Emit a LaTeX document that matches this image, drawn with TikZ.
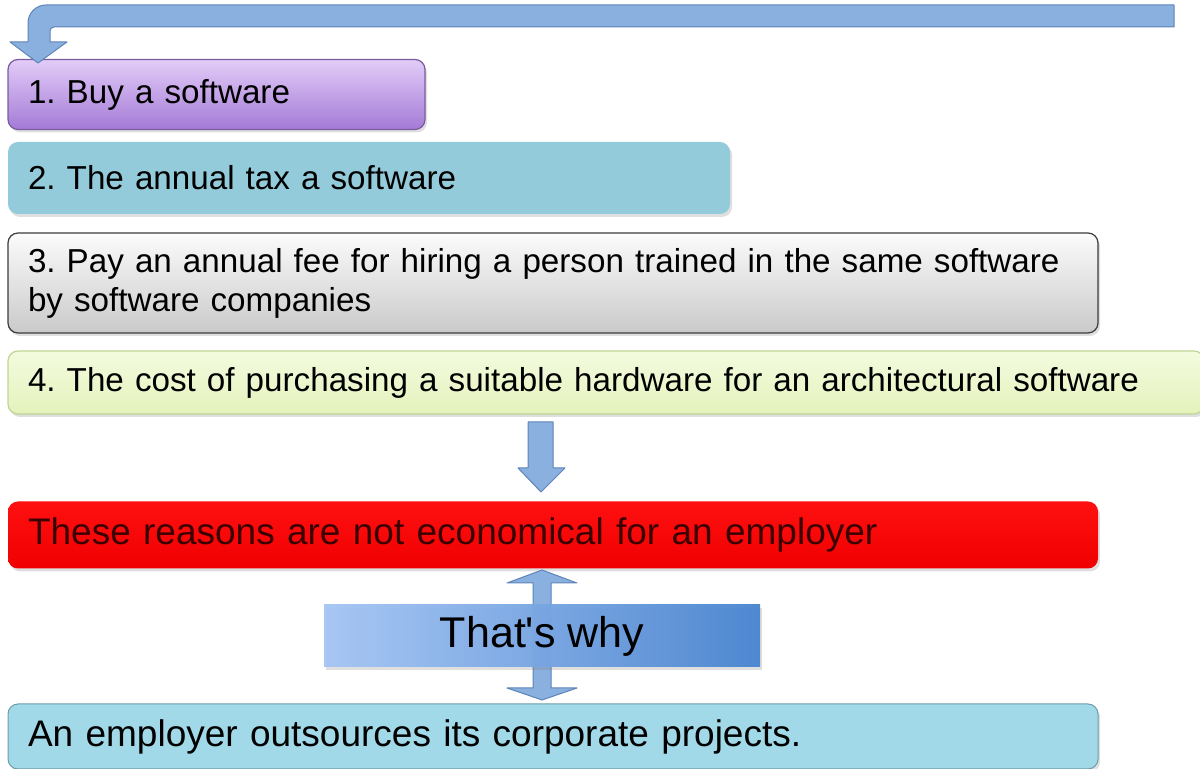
\documentclass[tikz,border=0pt]{standalone}
\usepackage{fontspec}
\setmainfont{Liberation Sans}
\usetikzlibrary{shadows}
\definecolor{arrowfill}{HTML}{8AB0E0}
\definecolor{arrowdraw}{HTML}{5E84B8}
\definecolor{purtop}{HTML}{E2CCF8}
\definecolor{purbot}{HTML}{A47AD6}
\definecolor{purdraw}{HTML}{7A5C9E}
\definecolor{tealfill}{HTML}{93CBDB}
\definecolor{graytop}{HTML}{FBFBFB}
\definecolor{graybot}{HTML}{CACACA}
\definecolor{graydraw}{HTML}{3C3C3C}
\definecolor{greentop}{HTML}{F4FBDF}
\definecolor{greenbot}{HTML}{E4F2BC}
\definecolor{greendraw}{HTML}{BED594}
\definecolor{redtop}{HTML}{FF1010}
\definecolor{redbot}{HTML}{F00000}
\definecolor{redtext}{HTML}{3A0000}
\definecolor{bluefill}{HTML}{A2D9E9}
\definecolor{bluedraw}{HTML}{6E9CAA}
\definecolor{whyleft}{HTML}{A6C6F4}
\definecolor{whyright}{HTML}{4A86D0}
\frenchspacing
\begin{document}
\begin{tikzpicture}[x=0.5pt,y=-0.5pt,
  box/.style={rounded corners=5pt, anchor=center, align=left,
    inner xsep=10pt, font=\fontsize{16.6}{19.5}\selectfont,
    drop shadow={opacity=0.25, shadow xshift=1pt, shadow yshift=-1.5pt}},
  bigbox/.style={box, font=\fontsize{18.5}{22}\selectfont},
  bigarrow/.style={fill=arrowfill, draw=arrowdraw, line width=0.5pt, line join=round}]
\useasboundingbox (0,0) rectangle (1200,769);
% boxes
\node[box, top color=purtop, bottom color=purbot, draw=purdraw, line width=0.6pt,
  minimum width=208.5pt, minimum height=35pt, text width=188.5pt] (b1) at (216.5,94.5) {1. Buy a software};
\node[box, fill=tealfill,
  minimum width=361pt, minimum height=36pt, text width=341pt] (b2) at (369,178) {2. The annual tax a software};
\node[box, top color=graytop, bottom color=graybot, draw=graydraw, line width=0.6pt,
  minimum width=545pt, minimum height=50pt, text width=525pt] (b3) at (553,283)
  {3. Pay an annual fee for hiring a person trained in the same software\\by software companies};
\node[box, top color=greentop, bottom color=greenbot, draw=greendraw, line width=0.6pt,
  minimum width=598pt, minimum height=31.5pt, text width=578pt] (b4) at (606,382.5)
  {4. The cost of purchasing a suitable hardware for an architectural software};
\node[bigbox, top color=redtop, bottom color=redbot, text=redtext,
  minimum width=545pt, minimum height=33.5pt, text width=525pt] (b5) at (553,535)
  {These reasons are not economical for an employer};
\node[bigbox, fill=bluefill, draw=bluedraw, line width=0.5pt,
  minimum width=545pt, minimum height=32.5pt, text width=525pt] (b6) at (553,736.5)
  {An employer outsources its corporate projects.};
% down arrow between box 4 and box 5
\draw[bigarrow] (528,422) -- (553,422) -- (553,468) -- (565,468) -- (541,492)
  -- (518,468) -- (528,468) -- cycle;
% double arrow
\draw[bigarrow] (542,570) -- (577,583) -- (551,583) -- (551,688) -- (577,688)
  -- (542,700) -- (507,688) -- (533,688) -- (533,583) -- (507,583) -- cycle;
% That's why box
\node[anchor=center, left color=whyleft, right color=whyright, opacity=0.97, text opacity=1,
  minimum width=218pt, minimum height=31pt, inner sep=0pt,
  font=\fontsize{21.5}{24}\selectfont,
  drop shadow={opacity=0.25, shadow xshift=1pt, shadow yshift=-1.5pt}] (why) at (542,636) {That\textquotesingle s why};
% top bent arrow
\draw[bigarrow] (1174,5) -- (46,5) arc[start angle=270, end angle=180, radius=18] -- (28,42)
  -- (10,42) -- (38,63) -- (67,42) -- (50,42) -- (50,31) arc[start angle=180, end angle=270, radius=4] -- (1174,27) -- cycle;
\end{tikzpicture}
\end{document}
